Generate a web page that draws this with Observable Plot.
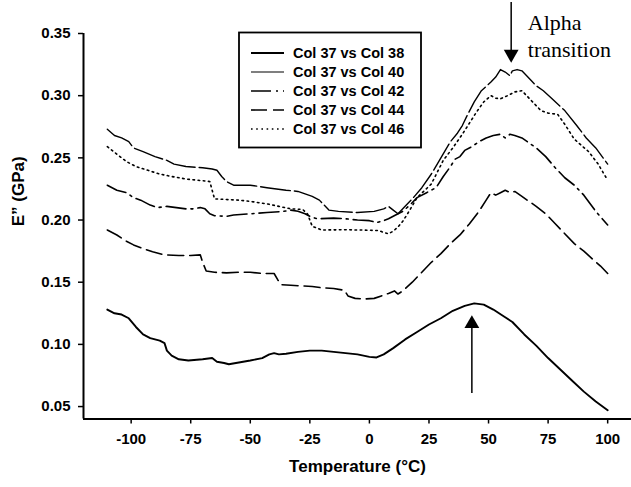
<!DOCTYPE html>
<html><head><meta charset="utf-8">
<script src="https://cdn.jsdelivr.net/npm/d3@7"></script>
<script src="https://cdn.jsdelivr.net/npm/@observablehq/plot@0.6"></script>
<style>
body{margin:0;background:#fff}
#wrap{position:relative;width:631px;height:487px;overflow:hidden}
#legend{position:absolute;left:0;top:0}
</style>
</head><body><div id="wrap"></div>
<script>
const seriesNames = ["Col 37 vs Col 38","Col 37 vs Col 40","Col 37 vs Col 42","Col 37 vs Col 44","Col 37 vs Col 46"];

const col38 = [[-110,0.128],[-107,0.125],[-104,0.124],[-101,0.121],[-98,0.114],[-95,0.108],[-92,0.105],[-88,0.103],[-86,0.101],[-85,0.095],[-83,0.091],[-80,0.088],[-76,0.087],[-70,0.088],[-66,0.089],[-64,0.086],[-61,0.085],[-59,0.084],[-56,0.085],[-50,0.087],[-45,0.089],[-42,0.092],[-40,0.093],[-38,0.092],[-35,0.0925],[-30,0.094],[-25,0.095],[-20,0.095],[-15,0.094],[-10,0.093],[-5,0.092],[0,0.090],[3,0.0895],[6,0.092],[10,0.097],[15,0.104],[20,0.110],[25,0.116],[30,0.121],[35,0.127],[40,0.131],[44,0.133],[48,0.132],[52,0.128],[56,0.123],[60,0.118],[65,0.108],[70,0.099],[75,0.089],[80,0.080],[85,0.071],[90,0.062],[95,0.054],[100,0.047]];

const col40 = [[-110,0.273],[-107,0.268],[-104,0.266],[-101,0.263],[-99,0.258],[-95,0.255],[-90,0.251],[-85,0.248],[-82,0.245],[-77,0.243],[-70,0.242],[-66,0.241],[-64,0.240],[-62,0.235],[-60,0.231],[-57,0.228],[-50,0.228],[-43,0.226],[-35,0.224],[-30,0.223],[-27,0.221],[-24,0.219],[-21,0.216],[-19,0.212],[-17,0.208],[-13,0.207],[-5,0.206],[2,0.207],[6,0.209],[8,0.211],[10,0.208],[12,0.205],[15,0.211],[18,0.217],[22,0.226],[26,0.237],[30,0.250],[34,0.263],[37,0.270],[39,0.276],[41,0.284],[44,0.295],[47,0.304],[51,0.311],[53,0.315],[55,0.321],[57,0.319],[59,0.316],[60,0.320],[62,0.321],[64,0.320],[66,0.316],[68,0.312],[70,0.308],[73,0.304],[77,0.297],[82,0.288],[87,0.276],[91,0.266],[95,0.258],[100,0.245]];

const col42 = [[-110,0.228],[-106,0.224],[-102,0.222],[-99,0.218],[-96,0.216],[-92,0.212],[-89,0.210],[-85,0.211],[-81,0.210],[-77,0.209],[-74,0.209],[-71,0.210],[-69,0.209],[-67,0.205],[-65,0.2035],[-60,0.203],[-57,0.204],[-50,0.205],[-43,0.206],[-36,0.207],[-33,0.208],[-30,0.207],[-27,0.205],[-25,0.203],[-22,0.201],[-15,0.2015],[-10,0.201],[-5,0.200],[0,0.1995],[3,0.198],[6,0.1995],[8,0.201],[11,0.204],[14,0.207],[17,0.212],[20,0.218],[24,0.222],[28,0.226],[31,0.235],[34,0.243],[36,0.249],[38,0.251],[40,0.256],[43,0.259],[46,0.263],[49,0.266],[52,0.268],[55,0.269],[57,0.266],[59,0.269],[61,0.268],[64,0.266],[67,0.262],[70,0.258],[74,0.251],[78,0.242],[82,0.234],[86,0.228],[90,0.220],[95,0.207],[100,0.196]];

const col44 = [[-110,0.192],[-106,0.188],[-102,0.183],[-99,0.180],[-95,0.177],[-91,0.1745],[-86,0.172],[-80,0.1715],[-75,0.1715],[-71,0.172],[-70,0.166],[-68.5,0.159],[-65,0.158],[-60,0.1575],[-55,0.158],[-50,0.158],[-45,0.157],[-40,0.157],[-38.5,0.152],[-37,0.148],[-33,0.1475],[-28,0.147],[-24,0.1465],[-20,0.1455],[-15,0.145],[-10.5,0.1435],[-9,0.139],[-6,0.137],[-2,0.1365],[2,0.137],[5,0.139],[8,0.141],[10.5,0.143],[12,0.1405],[14,0.143],[18,0.150],[22,0.158],[26,0.166],[30,0.173],[34,0.181],[38,0.188],[42,0.197],[46,0.207],[49,0.216],[51,0.222],[53,0.220],[55,0.222],[57,0.224],[59,0.222],[61,0.223],[64,0.219],[67,0.215],[70,0.211],[74,0.205],[78,0.197],[82,0.189],[86,0.181],[90,0.175],[94,0.168],[97,0.163],[100,0.157]];

const col46 = [[-110,0.259],[-106,0.253],[-102,0.247],[-98,0.243],[-93,0.240],[-88,0.237],[-83,0.235],[-77,0.233],[-72,0.232],[-67,0.231],[-66,0.224],[-65,0.217],[-60,0.2165],[-55,0.216],[-50,0.215],[-43,0.213],[-38,0.211],[-33,0.209],[-28,0.2085],[-26,0.205],[-24,0.195],[-20,0.192],[-10,0.1922],[0,0.1918],[4,0.1915],[6,0.190],[8,0.189],[10,0.191],[12,0.1945],[14,0.199],[16,0.205],[20,0.218],[26,0.229],[31,0.248],[35,0.258],[39,0.269],[45,0.287],[48,0.295],[51,0.300],[53,0.298],[55,0.2975],[58,0.300],[61,0.303],[64,0.304],[66,0.300],[68,0.296],[72,0.288],[75,0.286],[79,0.285],[82,0.277],[86,0.265],[89,0.260],[92,0.255],[96,0.245],[100,0.232]];

const xTicks = [-100,-75,-50,-25,0,25,50,75,100];
const yTicks = [0.05,0.10,0.15,0.20,0.25,0.30,0.35];
const xLabel = "Temperature (°C)";
const yLabel = "E\u201D (GPa)";
const alphaLabel = "Alpha\ntransition";
// annotation arrows: [x, shaft start y, tip y]
const alphaArrow = [59.5, 0.3685, 0.3265];
const peakArrow = [43, 0.067, 0.1235];
const alphaLabelPos = [66.5, 0.3685];

const seriesData = [col38, col40, col42, col44, col46];
const styles = [
  {strokeWidth: 1.9, dash: null},
  {strokeWidth: 1.4, dash: "30,4"},
  {strokeWidth: 1.6, dash: "20,5,2,5"},
  {strokeWidth: 1.6, dash: "16,6"},
  {strokeWidth: 1.6, dash: "1.6,3.6"}
];

const sans = "'Liberation Sans', Arial, sans-serif";
const lineMarks = seriesData.map((arr, i) =>
  Plot.line(arr, {x: d => d[0], y: d => d[1], stroke: "#000", strokeWidth: styles[i].strokeWidth,
    strokeDasharray: styles[i].dash, strokeLinejoin: "round"}));

const chart = Plot.plot({
  width: 631, height: 487,
  marginLeft: 83, marginRight: 0, marginTop: 33, marginBottom: 68.5,
  style: {fontFamily: sans, fontSize: "15px", fontWeight: "bold", color: "#000", background: "#fff"},
  x: {domain: [-120, 110]},
  y: {domain: [0.04, 0.35]},
  marks: [
    Plot.axisX({ticks: xTicks, tickSize: 5, tickPadding: 9, label: null, fontSize: 15, strokeWidth: 1.5, tickFormat: d => String(d)}),
    Plot.axisY({ticks: yTicks, tickSize: 5, tickPadding: 8, label: null, fontSize: 15, strokeWidth: 1.5, tickFormat: d3.format(".2f")}),
    Plot.ruleY([0.04], {stroke: "#000", strokeWidth: 2}),
    Plot.ruleX([-120], {y1: 0.04, y2: 0.35, stroke: "#000", strokeWidth: 2}),
    ...lineMarks,
    Plot.ruleX([alphaArrow], {x: d => d[0], y1: d => d[1], y2: d => d[2], stroke: "#000", strokeWidth: 1.5, dy: -8}),
    Plot.dot([alphaArrow], {x: d => d[0], y: d => d[2], symbol: "triangle", r: 5.5, rotate: 180, fill: "#000", dy: -8.6}),
    Plot.ruleX([peakArrow], {x: d => d[0], y1: d => d[1], y2: d => d[2], stroke: "#000", strokeWidth: 1.5, dy: 8}),
    Plot.dot([peakArrow], {x: d => d[0], y: d => d[2], symbol: "triangle", r: 5.5, fill: "#000", dy: 8.6}),
    Plot.text([alphaLabel], {x: alphaLabelPos[0], y: alphaLabelPos[1], text: d => d, textAnchor: "start", lineAnchor: "top",
      lineHeight: 1.23, fontFamily: "'Liberation Serif', 'Times New Roman', serif", fontWeight: "normal", fontSize: 22, fill: "#000"}),
    Plot.text([xLabel], {frameAnchor: "bottom", text: d => d, dy: 53, fontSize: 17, fill: "#000"}),
    Plot.text([yLabel], {frameAnchor: "left", text: d => d, dx: -65, rotate: -90, fontSize: 17, fill: "#000"})
  ]
});

const wrap = document.getElementById("wrap");
wrap.appendChild(chart);

// legend
const lg = d3.select(wrap).append("svg").attr("id", "legend").attr("width", 631).attr("height", 487);
lg.append("rect").attr("x", 239).attr("y", 32.5).attr("width", 182).attr("height", 115)
  .attr("fill", "#fff").attr("stroke", "#000").attr("stroke-width", 1.8);
seriesNames.forEach((name, i) => {
  const y = 53 + i * 19;
  lg.append("line").attr("x1", 251).attr("x2", 284).attr("y1", y).attr("y2", y)
    .attr("stroke", "#000").attr("stroke-width", i === 1 ? 1.2 : styles[i].strokeWidth)
    .attr("stroke-dasharray", i === 1 ? null : styles[i].dash);
  lg.append("text").attr("x", 293).attr("y", y).attr("dy", "0.35em")
    .attr("font-family", sans).attr("font-weight", "bold").attr("font-size", 14.5).text(name);
});
</script>
</body></html>
